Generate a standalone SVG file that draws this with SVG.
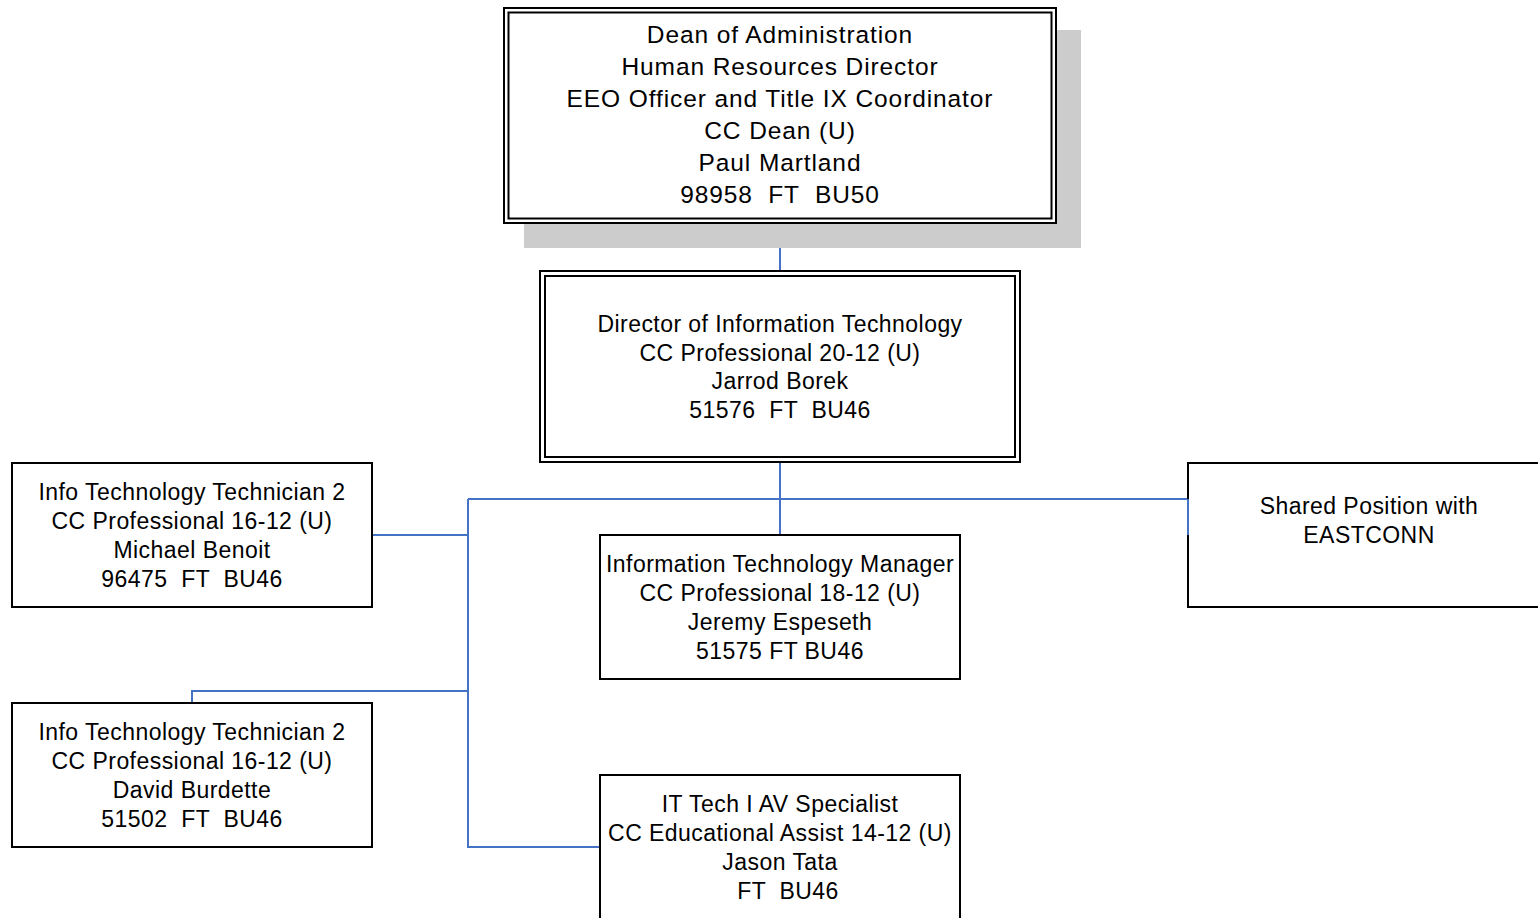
<svg xmlns="http://www.w3.org/2000/svg" width="1538" height="918" viewBox="0 0 1538 918">
  <style>
    .box { fill: #ffffff; stroke: #000000; stroke-width: 2; }
    .inner { fill: none; stroke: #000000; stroke-width: 2; }
    .shadow { fill: #cccccc; }
    .t { font-family: "Liberation Sans", Arial, sans-serif; font-size: 23px; letter-spacing: 0.45px; fill: #000000; text-anchor: middle; white-space: pre; }
    .big { font-size: 24.5px; letter-spacing: 0.9px; }
    .link { fill: none; stroke: #4472c4; stroke-width: 2; }
  </style>

  <!-- reporting lines -->
  <g id="connectors">
    <path class="link" d="M780 223 V271"/>
    <path class="link" d="M780 462 V535"/>
    <path class="link" d="M468 499 H1188 V535"/>
    <path class="link" d="M372 535 H468"/>
    <path class="link" d="M468 499 V847 H600"/>
    <path class="link" d="M468 691 H192 V703"/>
  </g>

  <g id="dean">
    <rect class="shadow" x="524" y="30" width="557" height="218"/>
    <rect class="box" x="504" y="8" width="552" height="215"/>
    <rect class="inner" x="508.5" y="12.5" width="543" height="206"/>
    <text class="t big" x="780" y="43">Dean of Administration</text>
    <text class="t big" x="780" y="75">Human Resources Director</text>
    <text class="t big" x="780" y="107">EEO Officer and Title IX Coordinator</text>
    <text class="t big" x="780" y="139">CC Dean (U)</text>
    <text class="t big" x="780" y="171">Paul Martland</text>
    <text class="t big" x="780" y="203">98958  FT  BU50</text>
  </g>

  <g id="director-it">
    <rect class="box" x="540" y="271" width="480" height="191"/>
    <rect class="inner" x="545" y="276" width="470" height="181"/>
    <text class="t" x="780" y="332">Director of Information Technology</text>
    <text class="t" x="780" y="361">CC Professional 20-12 (U)</text>
    <text class="t" x="780" y="389">Jarrod Borek</text>
    <text class="t" x="780" y="418">51576  FT  BU46</text>
  </g>

  <g id="tech-benoit">
    <rect class="box" x="12" y="463" width="360" height="144"/>
    <text class="t" x="192" y="500">Info Technology Technician 2</text>
    <text class="t" x="192" y="529">CC Professional 16-12 (U)</text>
    <text class="t" x="192" y="558">Michael Benoit</text>
    <text class="t" x="192" y="587">96475  FT  BU46</text>
  </g>

  <g id="tech-burdette">
    <rect class="box" x="12" y="703" width="360" height="144"/>
    <text class="t" x="192" y="740">Info Technology Technician 2</text>
    <text class="t" x="192" y="769">CC Professional 16-12 (U)</text>
    <text class="t" x="192" y="798">David Burdette</text>
    <text class="t" x="192" y="827">51502  FT  BU46</text>
  </g>

  <g id="it-manager">
    <rect class="box" x="600" y="535" width="360" height="144"/>
    <text class="t" x="780" y="572">Information Technology Manager</text>
    <text class="t" x="780" y="601">CC Professional 18-12 (U)</text>
    <text class="t" x="780" y="630">Jeremy Espeseth</text>
    <text class="t" x="780" y="659">51575 FT BU46</text>
  </g>

  <g id="av-specialist">
    <rect class="box" x="600" y="775" width="360" height="160"/>
    <text class="t" x="780" y="812">IT Tech I AV Specialist</text>
    <text class="t" x="780" y="841">CC Educational Assist 14-12 (U)</text>
    <text class="t" x="780" y="870">Jason Tata</text>
    <text class="t" x="788" y="899">FT  BU46</text>
  </g>

  <g id="eastconn">
    <rect class="box" x="1188" y="463" width="360" height="144"/>
    <path class="link" d="M1188 499 V535"/>
    <text class="t" x="1369" y="514">Shared Position with</text>
    <text class="t" x="1369" y="543">EASTCONN</text>
  </g>
</svg>
